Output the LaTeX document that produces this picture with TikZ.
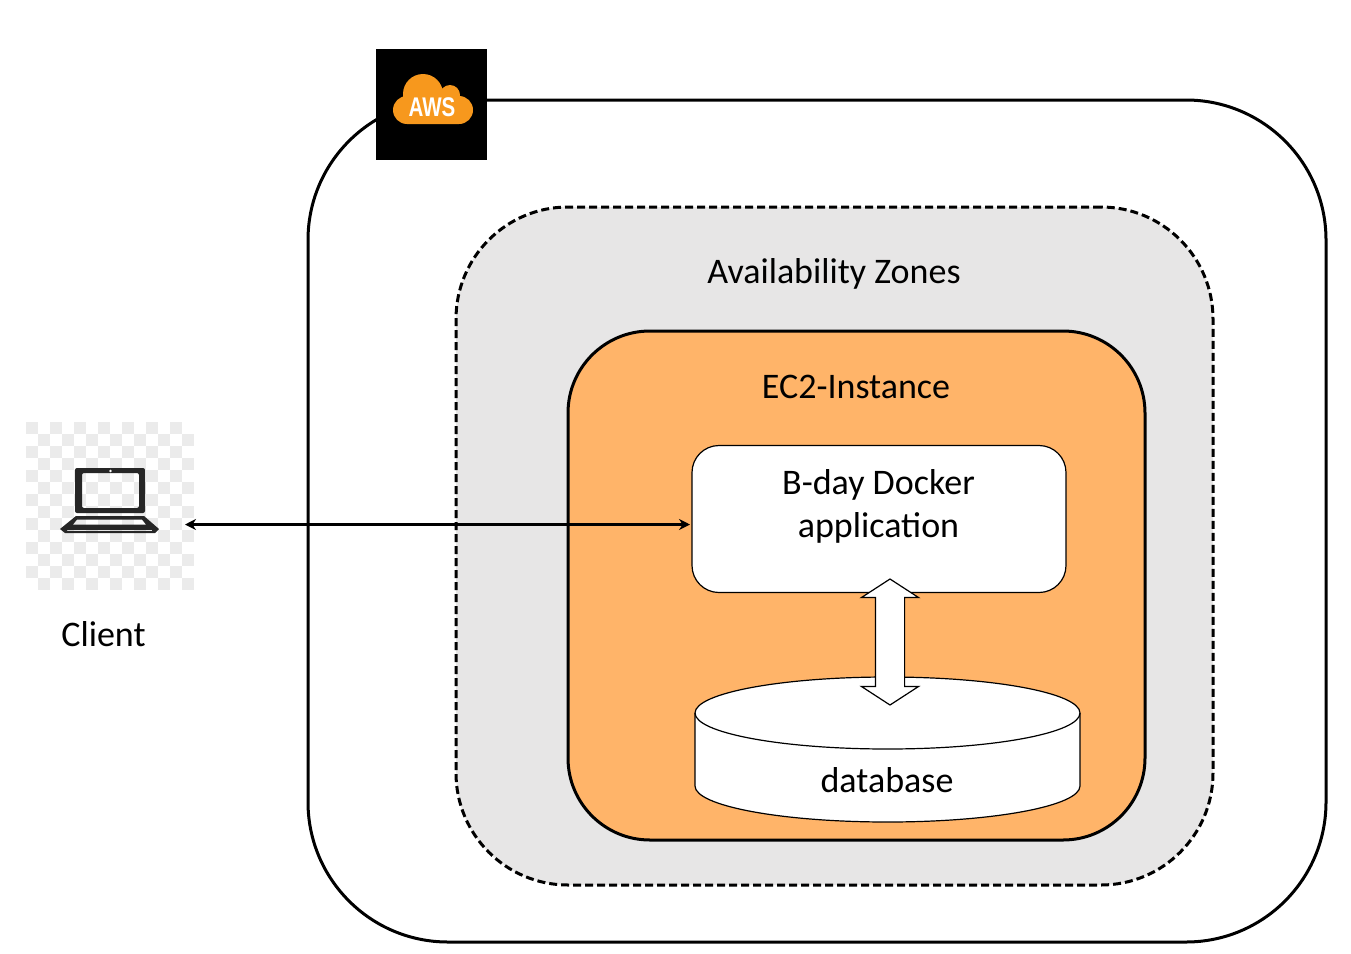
\documentclass[tikz,border=0pt]{standalone}
\usepackage{fontspec}
\setmainfont{Carlito}
\newfontfamily\awsfont{Liberation Sans}
\usetikzlibrary{arrows.meta,shapes.arrows}
\definecolor{zonegray}{HTML}{E7E6E6}
\definecolor{ecorange}{HTML}{FFB469}
\definecolor{awsorange}{HTML}{F7981D}
\definecolor{checkgray}{HTML}{EBEBEB}
\tikzset{
	region/.style={draw, line width=3pt, inner sep=0pt},
	thinbox/.style={draw, line width=1.2pt, fill=white},
	caption/.style={font=\fontsize{36}{43}\selectfont, align=center, inner sep=0pt},
}
\begin{document}
\begin{tikzpicture}[x=1pt, y=-1pt]
	\useasboundingbox (0,0) rectangle (1351,953);
	% regions
	\node[region, rounded corners=140pt, minimum width=1018pt, minimum height=842pt] (aws) at (817,521) {};
	\node[region, dash pattern=on 8pt off 4pt, fill=zonegray, rounded corners=112pt, minimum width=757pt, minimum height=678pt] (zones) at (834.5,546) {};
	\node[region, fill=ecorange, rounded corners=82pt, minimum width=577pt, minimum height=509pt] (ec2) at (856.5,585.5) {};
	\node[thinbox, rounded corners=27pt, inner sep=0pt, minimum width=374pt, minimum height=147pt] (app) at (879,519) {};
	% database
	\draw[thinbox] (695,713) -- (695,786) arc[start angle=180, end angle=360, x radius=192.5pt, y radius=36pt] -- (1080,713) arc[start angle=0, end angle=180, x radius=192.5pt, y radius=36pt] -- cycle;
	\draw[line width=1.2pt] (695,713) arc[start angle=180, end angle=360, x radius=192.5pt, y radius=36pt];
	\node[thinbox, shape=double arrow, rotate=90, double arrow head extend=14pt, double arrow tip angle=114, inner sep=0pt, text height=14pt, text depth=14pt, minimum height=126pt] (link) at (890,642) {};
	% labels
	\node[caption] (zoneslabel) at (834,274) {Availability Zones};
	\node[caption] (eclabel) at (856,387) {EC2-Instance};
	\node[caption] (applabel) at (878.5,506.5) {B-day Docker\\application};
	\node[caption] (dblabel) at (887,780) {database};
	\node[caption] (clientlabel) at (103.5,634) {Client};
	% aws badge
	\node[fill=black, inner sep=0pt, minimum size=111pt] (badge) at (431.5,104.5) {};
	\fill[awsorange] (423,94) circle (20pt) (450,95) circle (10pt) (407,110) circle (14pt) (459,110) circle (14pt) (407,100) rectangle (459,124);
	\node[inner sep=0pt, text=white, xscale=0.76, font=\awsfont\bfseries\fontsize{27}{27}\selectfont] (awslabel) at (432,107) {AWS};
	% client icon
	\foreach \i in {0,...,13} \foreach \j in {0,...,13} {
		\pgfmathparse{int(mod(\i+\j,2))}
		\ifnum\pgfmathresult=0 \fill[checkgray] (26+12*\i,422+12*\j) rectangle ++(12,12); \fi
	}
	\fill[black!85, even odd rule, rounded corners=2pt] (75,468) rectangle (145,513) (82,473) rectangle (139,508);
	\fill[white] (110.5,471) circle (1.3pt);
	\fill[black!85, even odd rule] (76,516) -- (144,516) -- (159,529) -- (155,533) -- (65,533) -- (60,529) -- cycle
		(77,519.5) -- (142,519.5) -- (146,524.5) -- (73,524.5) -- cycle
		(67,530) -- (152,530) -- (152,531) -- (67,531) -- cycle;
	% connector
	\coordinate (clientend) at (185,524.5);
	\coordinate (append) at (690,524.5);
	\draw[{Stealth[length=11pt,width=11pt]}-{Stealth[length=11pt,width=11pt]}, line width=2.4pt] (clientend) -- (append);
\end{tikzpicture}
\end{document}
